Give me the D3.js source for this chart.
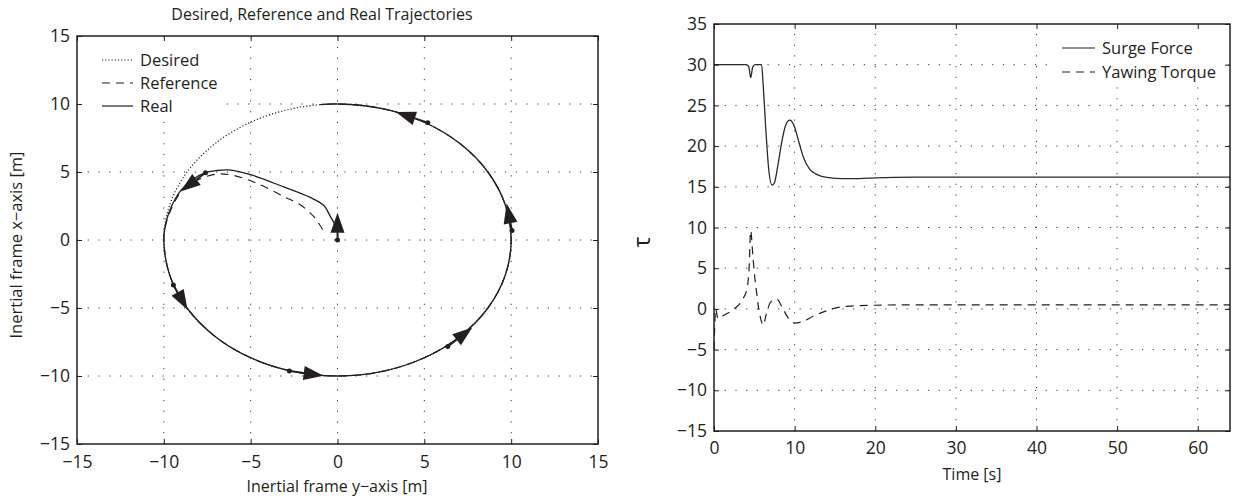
<!DOCTYPE html>
<html>
<head>
<meta charset="utf-8">
<script src="https://cdn.jsdelivr.net/npm/d3@7"></script>
<style>
  body { margin: 0; background: #fff; }
  svg { display: block; }
  text { font-family: "Open Sans", sans-serif; fill: #231f20; }
</style>
</head>
<body>
<svg id="fig" width="1239" height="502"></svg>
<script>
// ---- Trajectory plane: points are [y (east), x (north)] in metres ----
const desiredPath = [
  [0, 10], [2.59, 9.66], [5, 8.66], [7.07, 7.07], [8.66, 5], [9.66, 2.59],
  [10, 0], [9.66, -2.59], [8.66, -5], [7.07, -7.07], [5, -8.66], [2.59, -9.66],
  [0, -10], [-2.59, -9.66], [-5, -8.66], [-7.07, -7.07], [-8.66, -5], [-9.66, -2.59],
  [-10, 0], [-9.66, 2.59], [-8.66, 5], [-7.07, 7.07], [-5, 8.66], [-2.59, 9.66]
];
const referencePath = [
  [-0.85, 0.75], [-1.35, 1.7], [-2.1, 2.55], [-3.1, 3.2], [-4.6, 4.15], [-6.0, 4.75],
  [-6.9, 4.85], [-7.9, 4.5], [-8.85, 3.8], [-9.6, 2.2], [-9.95, 0.8], [-10, 0],
  [-9.66, -2.59], [-8.66, -5], [-7.07, -7.07], [-5, -8.66], [-2.59, -9.66], [0, -10],
  [2.59, -9.66], [5, -8.66], [7.07, -7.07], [8.66, -5], [9.66, -2.59], [10, 0],
  [9.66, 2.59], [8.66, 5], [7.07, 7.07], [5, 8.66], [2.59, 9.66], [0, 10], [-1, 9.95]
];
const realPath = [
  [0, 0], [0, 0.5], [-0.1, 1.0], [-0.4, 1.7], [-0.8, 2.55], [-1.6, 3.15], [-3.1, 3.9],
  [-5.0, 4.8], [-6.3, 5.15], [-7.0, 5.1], [-7.6, 4.95], [-8.4, 4.4], [-9.05, 3.6],
  [-9.55, 2.5], [-9.85, 1.4], [-10, 0],
  [-9.66, -2.59], [-8.66, -5], [-7.07, -7.07], [-5, -8.66], [-2.59, -9.66], [0, -10],
  [2.59, -9.66], [5, -8.66], [7.07, -7.07], [8.66, -5], [9.66, -2.59], [10, 0],
  [9.66, 2.59], [8.66, 5], [7.07, 7.07], [5, 8.66], [2.59, 9.66], [0, 10], [-1, 9.95]
];
// vessel snapshots: [y, x, heading in degrees from north]
const vesselPoses = [
  [0, 0, 0], [-7.6, 4.95, -134], [-9.45, -3.3, 156], [-2.77, -9.63, 100],
  [6.35, -7.84, 45], [10.05, 0.7, -9], [5.2, 8.63, -67]
];
const planeTicks = [-15, -10, -5, 0, 5, 10, 15];

// ---- Control inputs over time ----
const surgeTime = [0, 3.9, 4.3, 4.55, 4.8, 5.1, 5.9, 6.1, 6.4, 6.8, 7.2, 7.5, 7.9, 8.4, 8.9,
  9.4, 9.9, 10.5, 11.1, 11.9, 12.8, 14.0, 16.0, 18.0, 20.0, 25.0, 64.0];
const surgeForce = [30, 30, 29.8, 28.4, 29.7, 30, 30, 27.5, 22.5, 17, 15.2, 15.5, 17.5, 20.5, 22.6,
  23.2, 22.6, 20.6, 18.6, 17.1, 16.5, 16.15, 16.0, 16.0, 16.1, 16.2, 16.2];
const yawTime = [0, 0.08, 0.2, 0.5, 1.3, 2.5, 3.5, 4.1, 4.35, 4.55, 4.8, 5.0, 5.25, 5.55, 5.9,
  6.1, 6.5, 7.0, 7.8, 8.4, 9.2, 10.1, 11.0, 12.3, 13.5, 15.0, 17.0, 20.0, 25.0, 64.0];
const yawTorque = [-5, -2.5, 0, -1.2, -0.75, 0, 1.1, 2.5, 5, 9.6, 6.8, 4.4, 2.3, 0, -1.6,
  -2.0, -0.6, 0.8, 1.2, 0.3, -1.1, -1.75, -1.55, -0.9, -0.4, 0.1, 0.35, 0.45, 0.5, 0.5];
const tauTicks = [-15, -10, -5, 0, 5, 10, 15, 20, 25, 30, 35];
const timeTicks = [0, 10, 20, 30, 40, 50, 60];

const svg = d3.select("#fig");
const INK = "#231f20";

// dotted grid across the whole plotting box
function grid(g, sx, sy, xt, yt) {
  const [x0, x1] = sx.range(), [y0, y1] = sy.range();
  const gg = g.append("g").attr("stroke", "#333").attr("stroke-width", 1)
    .attr("stroke-dasharray", "1.2,9.5");
  gg.selectAll(".gx").data(xt.filter(v => sx(v) > x0 + 1 && sx(v) < x1 - 1)).join("line")
    .attr("x1", d => sx(d)).attr("x2", d => sx(d)).attr("y1", y0).attr("y2", y1);
  gg.selectAll(".gy").data(yt.filter(v => sy(v) < y0 - 1 && sy(v) > y1 + 1)).join("line")
    .attr("y1", d => sy(d)).attr("y2", d => sy(d)).attr("x1", x0).attr("x2", x1);
}

const minusFmt = d => d < 0 ? "\u2212" + Math.abs(d) : d;

// boxed frame with inward ticks on all four sides
function axesDecor(g, sx, sy, xt, yt, padX) {
  const [x0, x1] = sx.range(), [y0, y1] = sy.range();
  const bottom = g.append("g").attr("transform", `translate(0,${y0})`)
    .call(d3.axisBottom(sx).tickValues(xt).tickSizeInner(-5).tickSizeOuter(0).tickPadding(padX).tickFormat(minusFmt));
  const left = g.append("g").attr("transform", `translate(${x0},0)`)
    .call(d3.axisLeft(sy).tickValues(yt).tickSizeInner(-5).tickSizeOuter(0).tickPadding(7).tickFormat(minusFmt));
  const top = g.append("g").attr("transform", `translate(0,${y1})`)
    .call(d3.axisTop(sx).tickValues(xt).tickSizeInner(-5).tickSizeOuter(0).tickFormat(""));
  const right = g.append("g").attr("transform", `translate(${x1},0)`)
    .call(d3.axisRight(sy).tickValues(yt).tickSizeInner(-5).tickSizeOuter(0).tickFormat(""));
  [bottom, left, top, right].forEach(a => {
    a.select(".domain").remove();
    a.selectAll("line").attr("stroke", INK).attr("stroke-width", 1);
    a.selectAll("text").attr("font-size", 17.5).attr("font-family", "Open Sans").attr("fill", INK);
  });
  g.append("rect").attr("x", x0).attr("y", y1).attr("width", x1 - x0).attr("height", y0 - y1)
    .attr("fill", "none").attr("stroke", INK).attr("stroke-width", 1.5);
}

// ================= Left: trajectories =================
const sxP = d3.scaleLinear().domain([-15, 15]).range([77, 598]);
const syP = d3.scaleLinear().domain([-15, 15]).range([444, 36]);
const gL = svg.append("g");
grid(gL, sxP, syP, planeTicks, planeTicks);

const planeLine = d3.line().x(d => sxP(d[0])).y(d => syP(d[1]));

gL.append("path")
  .attr("d", planeLine.curve(d3.curveCatmullRomClosed)(desiredPath))
  .attr("fill", "none").attr("stroke", INK).attr("stroke-width", 1.2).attr("stroke-dasharray", "1.2,2");
gL.append("path")
  .attr("d", planeLine.curve(d3.curveCatmullRom)(referencePath))
  .attr("fill", "none").attr("stroke", INK).attr("stroke-width", 1.1).attr("stroke-dasharray", "8,6");
gL.append("path")
  .attr("d", planeLine.curve(d3.curveCatmullRom)(realPath))
  .attr("fill", "none").attr("stroke", INK).attr("stroke-width", 1.3);

// vessel pose arrows, 2 m long in the plane
const poseG = gL.append("g");
vesselPoses.forEach(([y, x, psi]) => {
  const r = psi * Math.PI / 180;
  const px = sxP(y), py = syP(x);
  const tx = sxP(y + 2 * Math.sin(r)), ty = syP(x + 2 * Math.cos(r));
  const dx = tx - px, dy = ty - py, L = Math.hypot(dx, dy);
  const ux = dx / L, uy = dy / L, nx = -uy, ny = ux;
  const head = 20, half = 7;
  const bx = tx - ux * head, by = ty - uy * head;
  poseG.append("line").attr("x1", px).attr("y1", py).attr("x2", bx).attr("y2", by)
    .attr("stroke", INK).attr("stroke-width", 1.8);
  poseG.append("path")
    .attr("d", `M${tx},${ty}L${bx + nx * half},${by + ny * half}L${bx - nx * half},${by - ny * half}Z`)
    .attr("fill", INK);
  poseG.append("circle").attr("cx", px).attr("cy", py).attr("r", 2.5).attr("fill", INK);
});

// legend (white background hides the grid beneath)
const legL = gL.append("g");
legL.append("rect").attr("x", 78).attr("y", 37).attr("width", 148).attr("height", 84).attr("fill", "#fff");
[["Desired", "1.2,2", 60], ["Reference", "8,6", 83], ["Real", null, 106]].forEach(([name, dash, yy]) => {
  legL.append("line").attr("x1", 102).attr("x2", 133).attr("y1", yy).attr("y2", yy)
    .attr("stroke", INK).attr("stroke-width", 1.2).attr("stroke-dasharray", dash);
  legL.append("text").attr("x", 140).attr("y", yy).attr("dy", "0.35em").attr("font-size", 16.5).text(name);
});
axesDecor(gL, sxP, syP, planeTicks, planeTicks, 12);

gL.append("text").attr("x", 322).attr("y", 20).attr("text-anchor", "middle").attr("font-size", 16)
  .text("Desired, Reference and Real Trajectories");
gL.append("text").attr("x", 337).attr("y", 492).attr("text-anchor", "middle").attr("font-size", 16)
  .text("Inertial frame y\u2212axis [m]");
gL.append("text").attr("transform", "translate(22,245) rotate(-90)").attr("text-anchor", "middle")
  .attr("font-size", 16.5).text("Inertial frame x\u2212axis [m]");

// ================= Right: control inputs =================
const sxT = d3.scaleLinear().domain([0, 64]).range([714, 1230]);
const syT = d3.scaleLinear().domain([-15, 35]).range([431, 24]);
const gR = svg.append("g");
grid(gR, sxT, syT, timeTicks, tauTicks);

gR.append("path")
  .attr("d", d3.line().x((d, i) => sxT(surgeTime[i])).y(d => syT(d)).curve(d3.curveMonotoneX)(surgeForce))
  .attr("fill", "none").attr("stroke", "#2a2a2a").attr("stroke-width", 1.3);
gR.append("path")
  .attr("d", d3.line().x((d, i) => sxT(yawTime[i])).y(d => syT(d)).curve(d3.curveMonotoneX)(yawTorque))
  .attr("fill", "none").attr("stroke", INK).attr("stroke-width", 1.2).attr("stroke-dasharray", "8,6");

const legR = gR.append("g");
legR.append("rect").attr("x", 1056).attr("y", 25).attr("width", 172).attr("height", 60).attr("fill", "#fff");
[["Surge Force", null, 48], ["Yawing Torque", "8,6", 72]].forEach(([name, dash, yy]) => {
  legR.append("line").attr("x1", 1062).attr("x2", 1095).attr("y1", yy).attr("y2", yy)
    .attr("stroke", INK).attr("stroke-width", 1.2).attr("stroke-dasharray", dash);
  legR.append("text").attr("x", 1102).attr("y", yy).attr("dy", "0.35em").attr("font-size", 16.5).text(name);
});
axesDecor(gR, sxT, syT, timeTicks, tauTicks, 11);

gR.append("text").attr("x", 972).attr("y", 480).attr("text-anchor", "middle").attr("font-size", 16)
  .text("Time [s]");
gR.append("text").attr("transform", "translate(650,242) rotate(-90)").attr("text-anchor", "middle")
  .attr("font-size", 23).text("\u03c4");
</script>
</body>
</html>
